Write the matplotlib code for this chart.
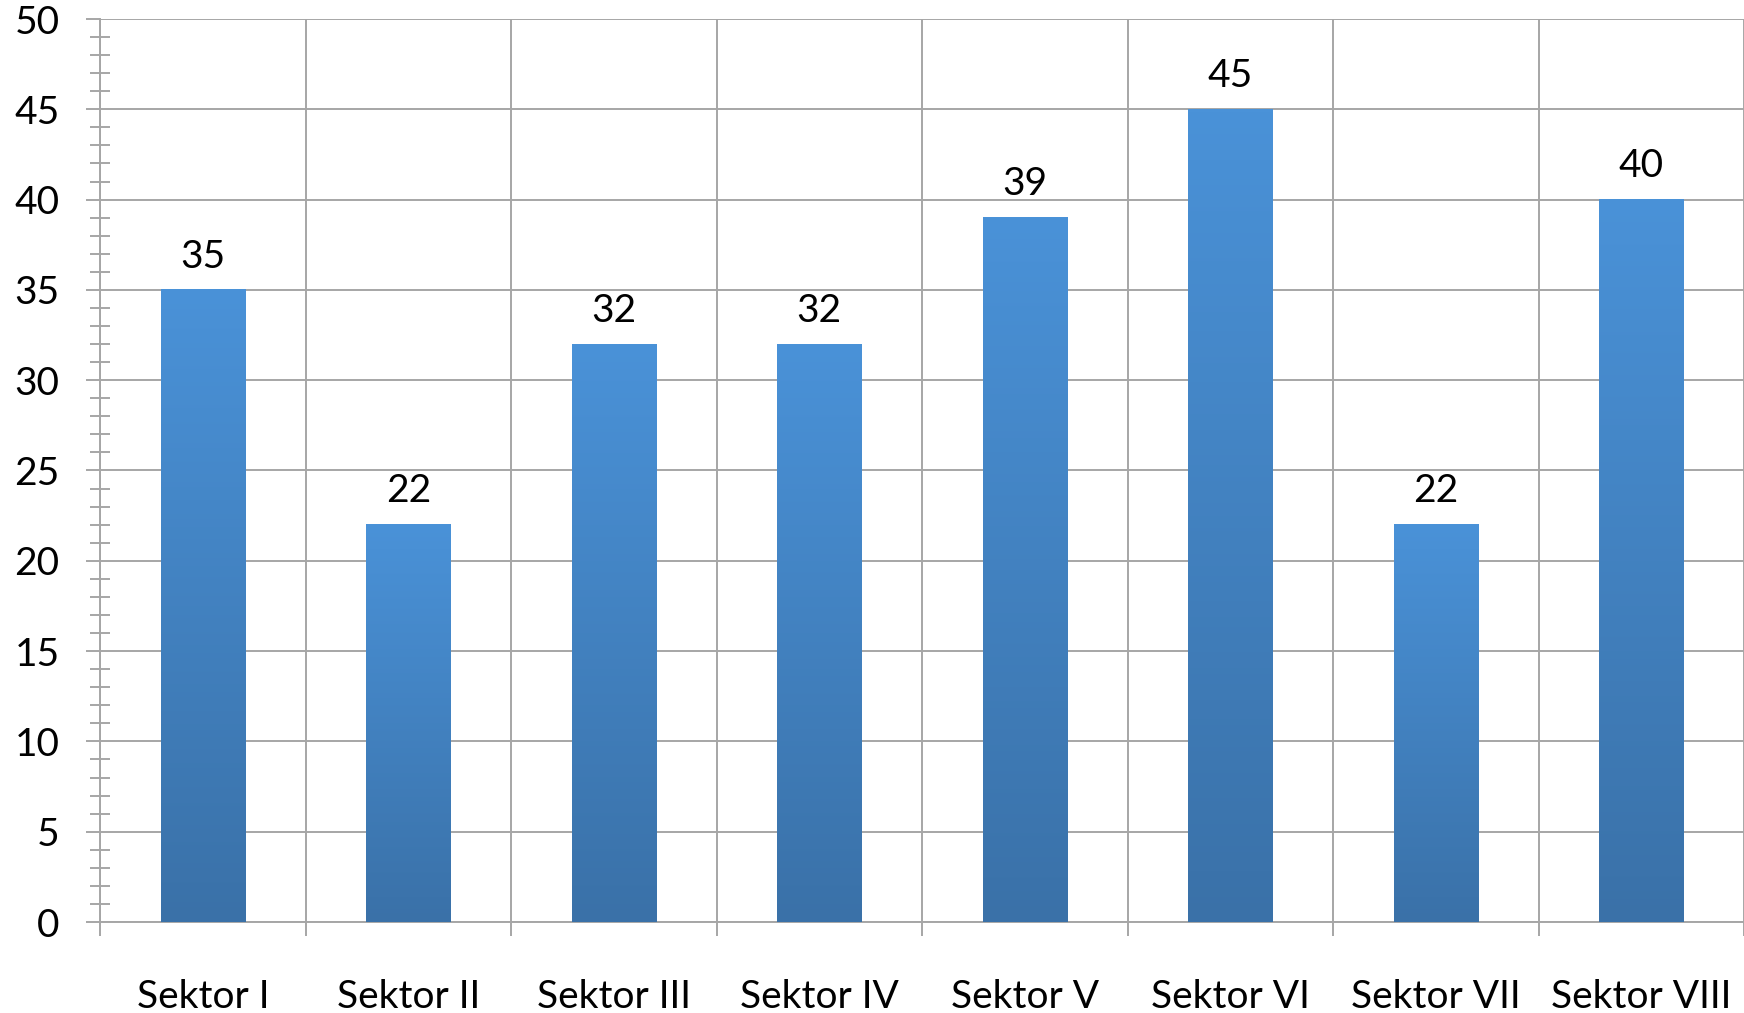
"""
bar chart of counts per sektor, Excel-style gradient bars
"""
import numpy as np
import matplotlib
matplotlib.use("Agg")
import matplotlib.pyplot as plt
from matplotlib.colors import LinearSegmentedColormap
from matplotlib.ticker import MultipleLocator

categories = ["Sektor I", "Sektor II", "Sektor III", "Sektor IV",
              "Sektor V", "Sektor VI", "Sektor VII", "Sektor VIII"]
values = [35, 22, 32, 32, 39, 45, 22, 40]
y_ticks = [0, 5, 10, 15, 20, 25, 30, 35, 40, 45, 50]

plt.rcParams['font.family'] = ['Lato', 'DejaVu Sans']
grid_col = '#A6A6A6'
fsize = 28

fig = plt.figure(figsize=(17.44, 10.13), dpi=100)
ax = fig.add_axes([100/1744, 91/1013, 1644/1744, 903/1013])

#gradient from light at the top of each bar to dark at the bottom
cmap = LinearSegmentedColormap.from_list('bar', ['#3A71A8', '#4A92D8'])
grad = np.linspace(0, 1, 256).reshape(-1, 1)
width = 0.41

x = np.arange(len(categories))
for xi, v in zip(x, values):
    ax.imshow(grad, cmap=cmap, origin='lower', aspect='auto',
              extent=[xi - width/2, xi + width/2, 0, v], zorder=3)
    ax.annotate(str(v), (xi, v), xytext=(0, 11), textcoords='offset points',
                ha='center', va='bottom', fontsize=fsize, zorder=4)

ax.set_xlim(-0.5, -0.5 + 1644/206.2)
ax.set_ylim(0, 50)

#ticks at category borders, labels at category centres
ax.set_xticks(np.arange(len(categories) + 1) - 0.5)
ax.set_xticklabels([])
ax.set_xticks(x, minor=True)
ax.set_xticklabels(categories, minor=True, fontsize=fsize)
ax.tick_params(axis='x', which='major', length=10, width=1.4, color=grid_col, direction='out')
ax.tick_params(axis='x', which='minor', length=0, pad=41)

ax.set_yticks(y_ticks)
ax.set_yticklabels([str(t) for t in y_ticks], fontsize=fsize)
ax.yaxis.set_minor_locator(MultipleLocator(1))
ax.tick_params(axis='y', which='major', length=10, width=1.4, color=grid_col, direction='out', pad=19)
ax.tick_params(axis='y', which='minor', length=15, width=1.4, color=grid_col, direction='inout')

ax.grid(True, which='major', color=grid_col, linewidth=1.4, zorder=0)
ax.set_axisbelow(True)

for side in ['top', 'right']:
    ax.spines[side].set_visible(False)
for side in ['left', 'bottom']:
    ax.spines[side].set_color(grid_col)
    ax.spines[side].set_linewidth(1.4)

fig.savefig('out.png', dpi=100)
